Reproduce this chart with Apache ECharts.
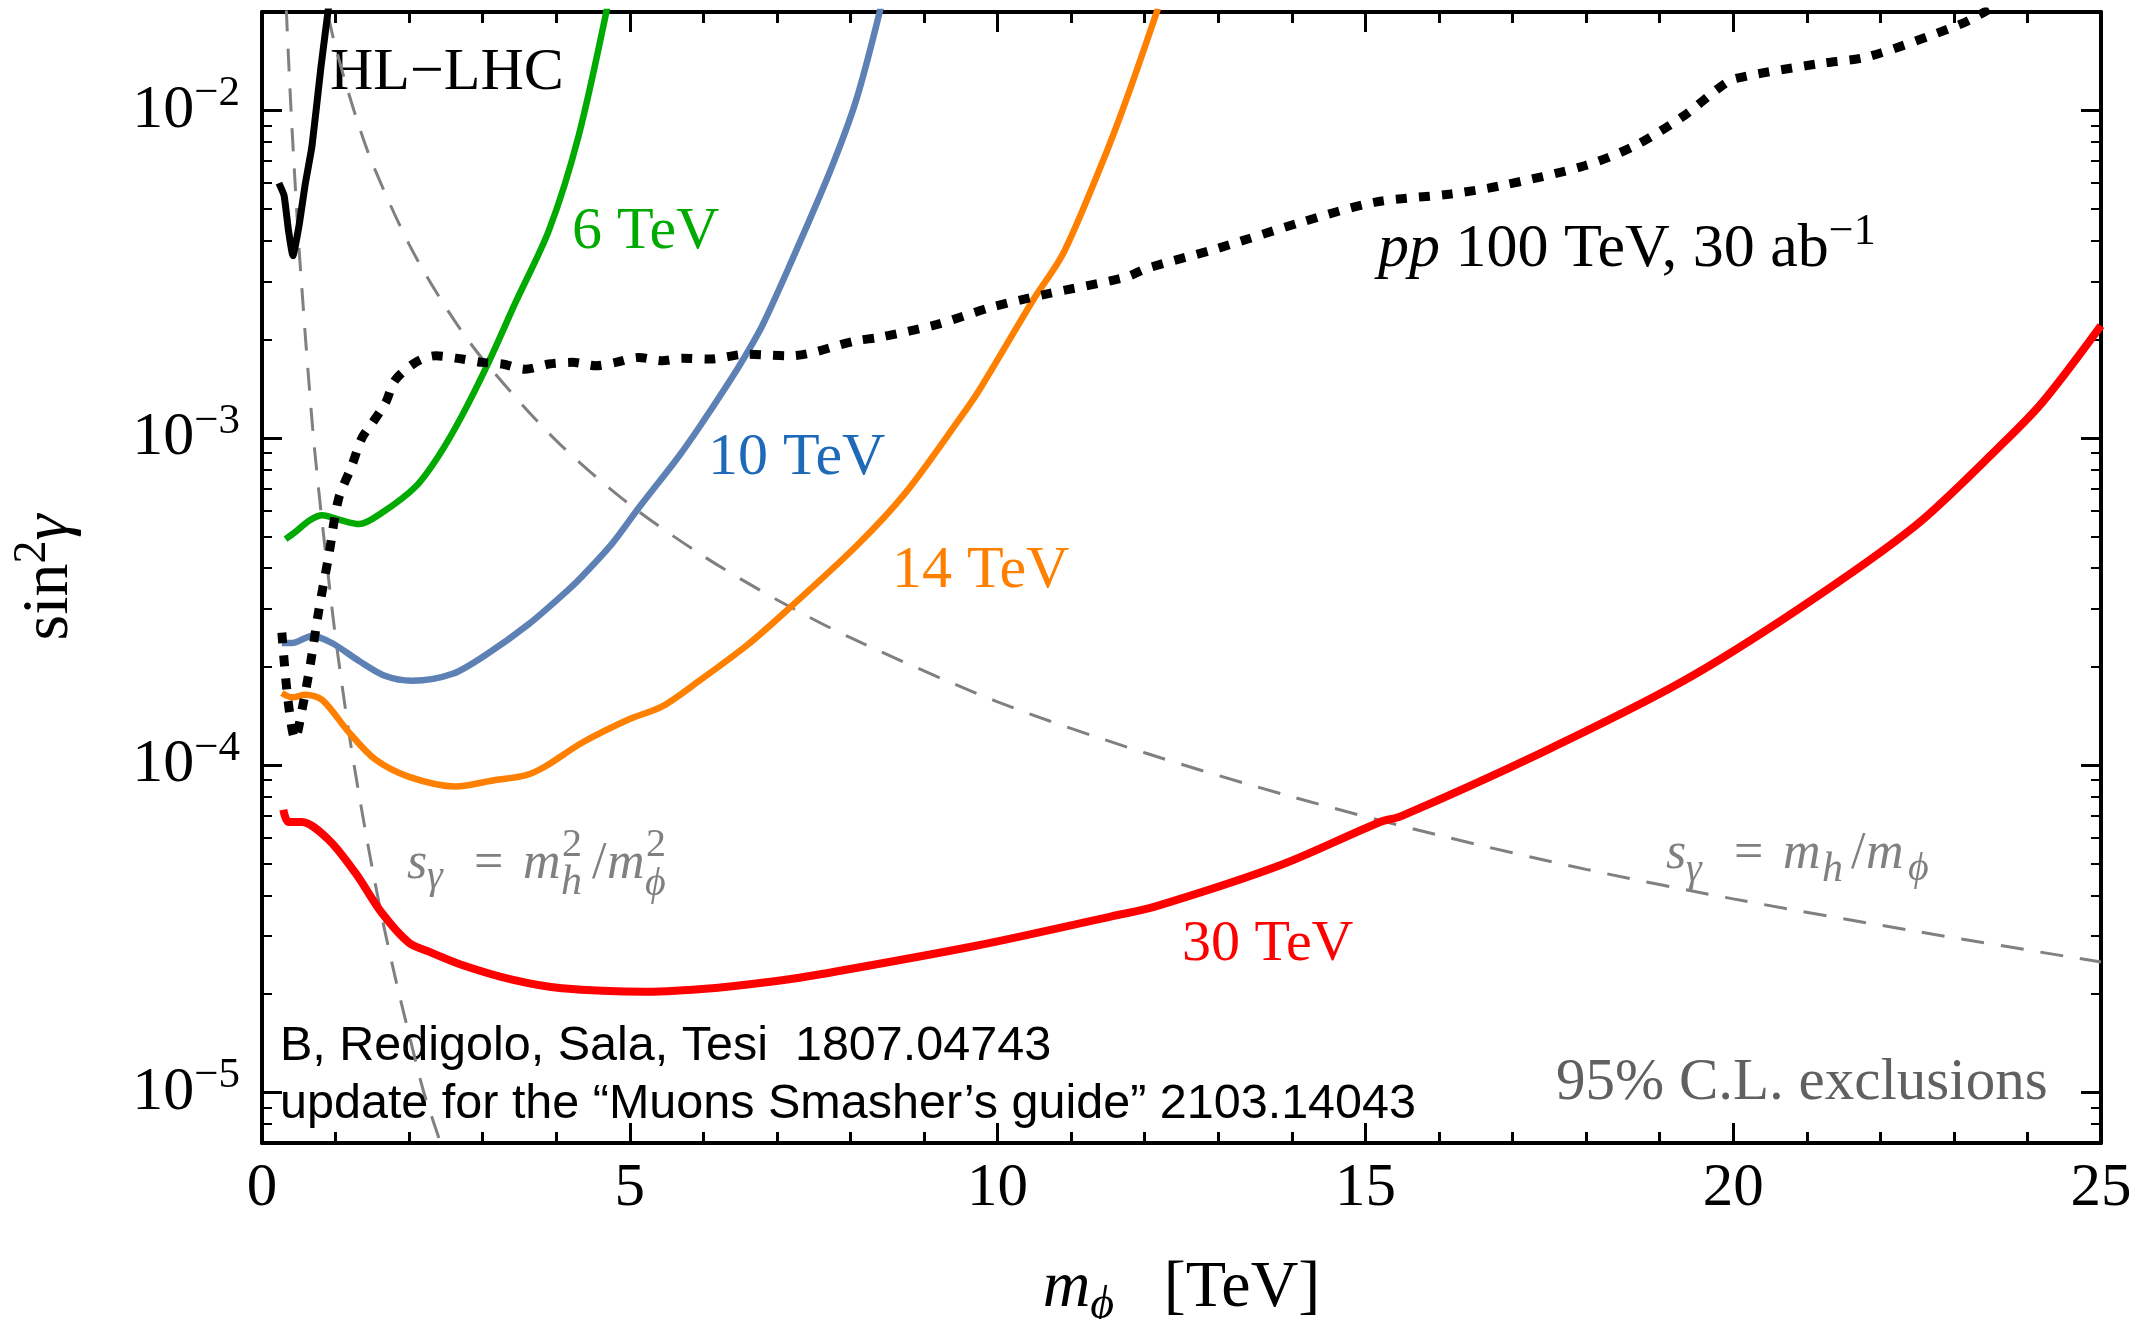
<!DOCTYPE html>
<html>
<head>
<meta charset="utf-8">
<script src="https://cdn.jsdelivr.net/npm/echarts@6/dist/echarts.min.js"></script>
<style>
html, body { margin: 0; padding: 0; background: #fff; }
#chart { width: 2132px; height: 1319px; }
</style>
</head>
<body>
<div id="chart"></div>
<script>
// values: x = m_phi [TeV], y = sin^2 gamma
const hlM = [0.23, 0.30, 0.36, 0.42, 0.50, 0.59, 0.68, 0.80, 0.92];
const hlV = [6.0e-3, 5.5e-3, 4.3e-3, 3.6e-3, 4.4e-3, 6.0e-3, 7.8e-3, 1.35e-2, 2.2e-2];

const m6 = [0.32, 0.45, 0.65, 0.82, 1.07, 1.32, 1.63, 2.09, 2.40, 2.72, 3.08, 3.45, 3.90, 4.30, 4.70];
const v6 = [4.9e-4, 5.15e-4, 5.6e-4, 5.8e-4, 5.6e-4, 5.45e-4, 5.9e-4, 7.1e-4, 8.8e-4, 1.17e-3, 1.7e-3, 2.6e-3, 4.3e-3, 8.3e-3, 2.1e-2];

const m10 = [0.27, 0.41, 0.68, 0.95, 1.32, 1.68, 2.04, 2.59, 3.08, 3.63, 4.08, 4.31, 4.76, 5.12, 5.67, 5.96, 6.35, 6.57, 6.80, 7.17, 7.72, 8.08, 8.42];
const v10 = [2.36e-4, 2.36e-4, 2.48e-4, 2.36e-4, 2.08e-4, 1.87e-4, 1.81e-4, 1.9e-4, 2.2e-4, 2.7e-4, 3.3e-4, 3.69e-4, 4.75e-4, 6.1e-4, 8.8e-4, 1.09e-3, 1.48e-3, 1.78e-3, 2.2e-3, 3.35e-3, 6.5e-3, 1.08e-2, 2.1e-2];

const m14 = [0.27, 0.41, 0.59, 0.82, 1.18, 1.54, 2.00, 2.63, 3.17, 3.58, 3.85, 4.35, 4.99, 5.44, 5.96, 6.58, 7.10, 8.08, 8.75, 9.48, 9.76, 10.49, 10.90, 11.48, 11.80, 12.18];
const v14 = [1.66e-4, 1.61e-4, 1.64e-4, 1.58e-4, 1.26e-4, 1.04e-4, 9.2e-5, 8.6e-5, 9.0e-5, 9.3e-5, 9.9e-5, 1.17e-4, 1.38e-4, 1.51e-4, 1.82e-4, 2.31e-4, 2.92e-4, 4.67e-4, 6.8e-4, 1.14e-3, 1.41e-3, 2.65e-3, 3.69e-3, 7.46e-3, 1.16e-2, 2.05e-2];

const m30 = [0.29, 0.36, 0.54, 0.91, 1.27, 1.63, 2.00, 2.27, 2.72, 3.40, 4.08, 5.22, 6.12, 7.07, 7.57, 9.69, 11.55, 12.15, 13.85, 15.20, 15.48, 17.39, 19.29, 20.88, 22.47, 23.60, 24.20, 25.00];
const v30 = [7.3e-5, 6.7e-5, 6.7e-5, 5.9e-5, 4.68e-5, 3.53e-5, 2.86e-5, 2.69e-5, 2.45e-5, 2.21e-5, 2.08e-5, 2.03e-5, 2.08e-5, 2.2e-5, 2.29e-5, 2.8e-5, 3.45e-5, 3.7e-5, 4.95e-5, 6.7e-5, 6.97e-5, 1.09e-4, 1.79e-4, 2.99e-4, 5.37e-4, 9.3e-4, 1.28e-3, 2.2e-3];

const mpp = [0.27, 0.35, 0.45, 0.55, 0.66, 0.77, 0.91, 1.04, 1.22, 1.36, 1.50, 1.68, 1.81, 2.09, 2.36, 2.72, 2.99, 3.27, 3.58, 3.90, 4.22, 4.54, 4.81, 5.12, 5.44, 5.71, 6.08, 6.58, 7.17, 8.08, 8.41, 9.18, 9.90, 10.60, 11.73, 12.04, 12.94, 13.40, 14.12, 15.12, 16.16, 16.84, 17.98, 18.66, 19.33, 19.79, 20.02, 21.16, 21.83, 23.10, 23.50];
const vpp = [2.54e-4, 1.6e-4, 1.2e-4, 1.5e-4, 2.05e-4, 2.95e-4, 4.4e-4, 6.5e-4, 8.2e-4, 1.0e-3, 1.11e-3, 1.28e-3, 1.5e-3, 1.7e-3, 1.78e-3, 1.74e-3, 1.7e-3, 1.68e-3, 1.62e-3, 1.68e-3, 1.7e-3, 1.66e-3, 1.7e-3, 1.76e-3, 1.72e-3, 1.75e-3, 1.74e-3, 1.8e-3, 1.78e-3, 1.98e-3, 2.03e-3, 2.22e-3, 2.5e-3, 2.73e-3, 3.09e-3, 3.3e-3, 3.76e-3, 4.05e-3, 4.55e-3, 5.24e-3, 5.56e-3, 5.89e-3, 6.78e-3, 7.8e-3, 9.64e-3, 1.164e-2, 1.25e-2, 1.39e-2, 1.46e-2, 1.84e-2, 2.05e-2];

// theory lines s_gamma = mh^2/mphi^2 and s_gamma = mh/mphi
const mSq = [0.33, 0.36, 0.40, 0.45, 0.50, 0.55, 0.60, 0.70, 0.80, 0.90, 1.00, 1.20, 1.40, 1.60, 1.80, 2.00, 2.20, 2.40, 2.50];
const vSq = [2.05e-2, 1.45e-2, 9.5e-3, 6.0e-3, 3.9e-3, 2.7e-3, 1.9e-3, 1.0e-3, 6.0e-4, 3.8e-4, 2.45e-4, 1.18e-4, 6.4e-5, 3.7e-5, 2.3e-5, 1.5e-5, 1.0e-5, 7.3e-6, 6.2e-6];
const mLin = [0.90, 1.00, 1.25, 1.50, 2.00, 2.50, 3.00, 4.00, 5.00, 6.00, 7.00, 8.00, 10.0, 12.0, 14.0, 16.0, 18.0, 20.0, 22.5, 25.0];
const vLin = [1.95e-2, 1.56e-2, 1.0e-2, 6.9e-3, 3.9e-3, 2.5e-3, 1.74e-3, 9.8e-4, 6.25e-4, 4.35e-4, 3.2e-4, 2.45e-4, 1.56e-4, 1.09e-4, 8.0e-5, 6.1e-5, 4.8e-5, 3.9e-5, 3.1e-5, 2.5e-5];

const yMajor = [1e-5, 1e-4, 1e-3, 1e-2];
const yMinor = [8e-6, 9e-6, 2e-5, 3e-5, 4e-5, 5e-5, 6e-5, 7e-5, 8e-5, 9e-5,
  2e-4, 3e-4, 4e-4, 5e-4, 6e-4, 7e-4, 8e-4, 9e-4,
  2e-3, 3e-3, 4e-3, 5e-3, 6e-3, 7e-3, 8e-3, 9e-3];

const SERIF = "'Liberation Serif', 'DejaVu Serif', serif";
const SANS = "'Liberation Sans', Arial, sans-serif";

function pairs(xs, ys) {
  return xs.map((x, i) => [x, ys[i]]);
}

function xAxisDef(pos, labels) {
  return {
    type: 'value', position: pos, min: 0, max: 25, interval: 5,
    axisLine: { show: true, onZero: false, lineStyle: { color: '#000', width: 4 } },
    axisTick: { show: true, inside: true, length: 20, lineStyle: { color: '#000', width: 3 } },
    minorTick: { show: true, splitNumber: 5, length: 11, lineStyle: { color: '#000', width: 3 } },
    axisLabel: { show: labels, margin: 15, color: '#000', fontSize: 61, fontFamily: SERIF },
    splitLine: { show: false }
  };
}

function yAxisDef(pos, major) {
  return {
    type: 'log', logBase: 10, position: pos, min: 7e-6, max: 0.02,
    axisLine: { show: major, lineStyle: { color: '#000', width: 4 } },
    axisTick: {
      show: true, inside: true, customValues: major ? yMajor : yMinor,
      length: major ? 20 : 10, lineStyle: { color: '#000', width: major ? 3 : 2 }
    },
    minorTick: { show: false },
    axisLabel: {
      show: major && pos === 'left', customValues: yMajor, margin: 22,
      formatter: v => '{b|10}{s|\u2212' + Math.round(-Math.log10(v)) + '}',
      rich: {
        b: { fontSize: 62, fontFamily: SERIF, color: '#000', lineHeight: 76 },
        s: { fontSize: 43, fontFamily: SERIF, color: '#000', lineHeight: 43, verticalAlign: 'top' }
      }
    },
    splitLine: { show: false }
  };
}

function line(data, color, width, type) {
  return {
    type: 'line', data, symbol: 'none', smooth: 0.3, clip: true,
    lineStyle: { color, width, type: type || 'solid', cap: 'butt' },
    emphasis: { disabled: true }
  };
}

function txt(x, y, text, size, color, extra) {
  return {
    type: 'text', x, y, silent: true,
    style: Object.assign({
      text, fontSize: size, fontFamily: SERIF, fill: color,
      align: 'left', verticalAlign: 'middle'
    }, extra || {})
  };
}

const gray = '#808080';
const it = { fontStyle: 'italic' };

const chart = echarts.init(document.getElementById('chart'));
chart.setOption({
  animation: false,
  backgroundColor: '#fff',
  grid: { left: 262, right: 31, top: 12, bottom: 176, containLabel: false, outerBoundsMode: 'none' },
  xAxis: [
    Object.assign(xAxisDef('bottom', true), {
      name: '{i|m}{sub|\u03d5}{n|   [TeV]}', nameLocation: 'middle', nameGap: 106,
      nameTextStyle: {
        rich: {
          i: { fontSize: 66, fontFamily: SERIF, fontStyle: 'italic', color: '#000', lineHeight: 80 },
          sub: { fontSize: 46, fontFamily: SERIF, fontStyle: 'italic', color: '#000', lineHeight: 46, verticalAlign: 'bottom' },
          n: { fontSize: 66, fontFamily: SERIF, color: '#000', lineHeight: 80 }
        }
      }
    }),
    xAxisDef('top', false)
  ],
  yAxis: [
    Object.assign(yAxisDef('left', true), {
      name: '{n|sin}{s|2}{g|\u03b3}', nameLocation: 'middle', nameGap: 172,
      nameTextStyle: {
        rich: {
          n: { fontSize: 66, fontFamily: SERIF, color: '#000', lineHeight: 80 },
          g: { fontSize: 66, fontFamily: SERIF, fontStyle: 'italic', color: '#000', lineHeight: 80 },
          s: { fontSize: 46, fontFamily: SERIF, color: '#000', lineHeight: 46, verticalAlign: 'top' }
        }
      }
    }),
    yAxisDef('left', false),
    yAxisDef('right', true),
    yAxisDef('right', false)
  ],
  series: [
    line(pairs(mSq, vSq), gray, 3, [23, 17]),
    line(pairs(mLin, vLin), gray, 3, [23, 17]),
    line(pairs(m30, v30), '#ff0000', 8),
    line(pairs(m14, v14), '#ff8000', 6.5),
    line(pairs(m10, v10), '#5e81b5', 6.5),
    line(pairs(m6, v6), '#00aa00', 6.5),
    line(pairs(mpp, vpp), '#000', 9, [11, 12]),
    Object.assign(line(pairs(hlM, hlV), '#000', 7), { smooth: 0.15 })
  ],
  graphic: [
    txt(330, 73, 'HL\u2212LHC', 60, '#000'),
    txt(572, 232, '6 TeV', 60, '#00aa00'),
    txt(708, 458, '10 TeV', 60, '#1f6ab8'),
    txt(892, 571, '14 TeV', 60, '#ff8000'),
    txt(1182, 945, '30 TeV', 58, '#ff0000'),
    txt(1378, 250, '{i|pp}{n| 100 TeV, 30 ab}{s|\u22121}', 62, '#000', {
      rich: {
        i: { fontSize: 62, fontFamily: SERIF, fontStyle: 'italic', fill: '#000', lineHeight: 80 },
        n: { fontSize: 62, fontFamily: SERIF, fill: '#000', lineHeight: 80 },
        s: { fontSize: 44, fontFamily: SERIF, fill: '#000', lineHeight: 44, verticalAlign: 'top' }
      }
    }),
    // s_gamma = m_h^2 / m_phi^2
    txt(407, 864, 's', 52, gray, it),
    txt(427, 877, '\u03b3', 40, gray, it),
    txt(474, 864, '=', 52, gray),
    txt(523, 864, 'm', 52, gray, it),
    txt(562, 845, '2', 40, gray),
    txt(561, 883, 'h', 42, gray, it),
    txt(592, 864, '/', 52, gray),
    txt(607, 864, 'm', 52, gray, it),
    txt(646, 845, '2', 40, gray),
    txt(645, 884, '\u03d5', 40, gray, it),
    // s_gamma = m_h / m_phi
    txt(1666, 854, 's', 52, gray, it),
    txt(1686, 870, '\u03b3', 40, gray, it),
    txt(1734, 854, '=', 52, gray),
    txt(1783, 854, 'm', 52, gray, it),
    txt(1822, 870, 'h', 42, gray, it),
    txt(1851, 854, '/', 52, gray),
    txt(1866, 854, 'm', 52, gray, it),
    txt(1908, 869, '\u03d5', 40, gray, it),
    txt(280, 1047, 'B, Redigolo, Sala, Tesi  1807.04743', 48.5, '#000', { fontFamily: SANS }),
    txt(280, 1105, 'update for the \u201cMuons Smasher\u2019s guide\u201d 2103.14043', 48.5, '#000', { fontFamily: SANS }),
    txt(1556, 1083, '95% C.L. exclusions', 59, '#606060')
  ]
});
</script>
</body>
</html>
